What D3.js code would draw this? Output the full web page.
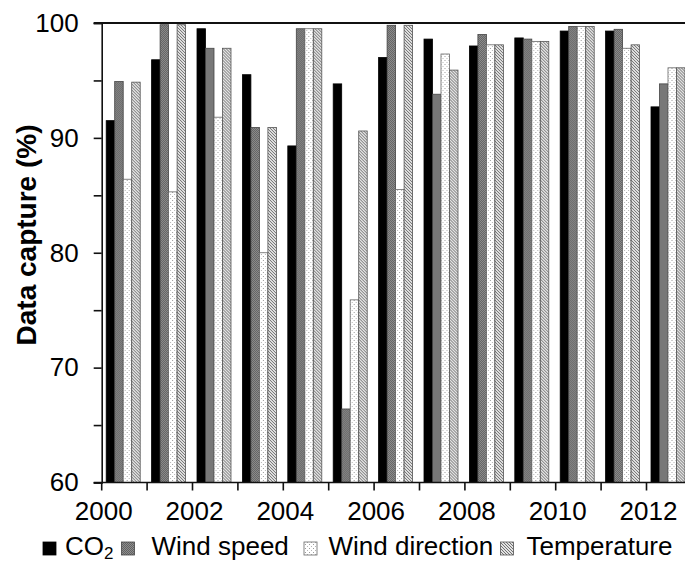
<!DOCTYPE html>
<html>
<head>
<meta charset="utf-8">
<script src="https://cdn.jsdelivr.net/npm/d3@7"></script>
<style>
  body { margin: 0; background: #fff; }
  svg { display: block; font-family: "Liberation Sans", Arial, sans-serif; }
</style>
</head>
<body>
<div id="chart"></div>
<script>
// data
const years = [2000, 2001, 2002, 2003, 2004, 2005, 2006, 2007, 2008, 2009, 2010, 2011, 2012];
const co2 = [91.5, 96.8, 99.5, 95.5, 89.3, 94.7, 97.0, 98.6, 98.0, 98.7, 99.3, 99.3, 92.7];
const windSpeed = [94.9, 99.85, 97.8, 90.9, 99.5, 66.4, 99.8, 93.8, 99.0, 98.6, 99.7, 99.45, 94.7];
const windDirection = [86.4, 85.3, 91.8, 80.0, 99.5, 75.9, 85.5, 97.3, 98.1, 98.4, 99.7, 97.8, 96.1];
const temperature = [94.85, 99.85, 97.8, 90.9, 99.5, 90.6, 99.8, 95.9, 98.1, 98.4, 99.7, 98.1, 96.1];
const seriesNames = ["CO2", "Wind speed", "Wind direction", "Temperature"];
const yTicks = [60, 70, 80, 90, 100];

/***** SETUP *****/
const width = 685, height = 563;
const margin = {top: 23, left: 101.7, bottom: 81};
const yearStep = 45.4;
const FONT = 26;

const svg = d3.select("#chart").append("svg")
    .attr("width", width)
    .attr("height", height);

const table = years.map((yr, i) => ({
    year: yr,
    values: [co2[i], windSpeed[i], windDirection[i], temperature[i]]
}));

/***** PATTERNS *****/
const defs = svg.append("defs");

const checker = defs.append("pattern").attr("id", "pChecker")
    .attr("patternUnits", "userSpaceOnUse").attr("width", 2).attr("height", 2);
checker.append("rect").attr("width", 2).attr("height", 2).attr("fill", "#8e8e8e");
checker.append("rect").attr("width", 1).attr("height", 1).attr("fill", "#626262");
checker.append("rect").attr("x", 1).attr("y", 1).attr("width", 1).attr("height", 1).attr("fill", "#626262");

const dots = defs.append("pattern").attr("id", "pDots")
    .attr("patternUnits", "userSpaceOnUse").attr("width", 4).attr("height", 4);
dots.append("rect").attr("width", 4).attr("height", 4).attr("fill", "#fff");
dots.append("rect").attr("x", 1).attr("y", 0).attr("width", 1).attr("height", 1).attr("fill", "#9a9a9a");
dots.append("rect").attr("x", 3).attr("y", 2).attr("width", 1).attr("height", 1).attr("fill", "#b5b5b5");

const hatch = defs.append("pattern").attr("id", "pHatch")
    .attr("patternUnits", "userSpaceOnUse").attr("width", 3).attr("height", 3);
hatch.append("rect").attr("width", 3).attr("height", 3).attr("fill", "#e2e2e2");
hatch.append("rect").attr("x", 0).attr("y", 0).attr("width", 1).attr("height", 1).attr("fill", "#707070");
hatch.append("rect").attr("x", 1).attr("y", 1).attr("width", 1).attr("height", 1).attr("fill", "#707070");
hatch.append("rect").attr("x", 2).attr("y", 2).attr("width", 1).attr("height", 1).attr("fill", "#707070");

const fills = ["#000", "url(#pChecker)", "url(#pDots)", "url(#pHatch)"];
const strokes = ["#000", "#444", "#666", "#555"];

/***** SCALES *****/
const xScale = d3.scaleBand()
    .domain(years)
    .range([margin.left, margin.left + years.length * yearStep])
    .padding(0);

const xSub = d3.scaleBand()
    .domain(d3.range(seriesNames.length))
    .range([4.5, 38.5]);

const yScale = d3.scaleLinear()
    .domain([60, 100])
    .range([height - margin.bottom + 0.5, margin.top]);

/***** BARS *****/
const groups = svg.append("g").selectAll(".yearGroup")
    .data(table)
    .join("g")
    .attr("class", "yearGroup")
    .attr("transform", d => `translate(${xScale(d.year)},0)`);

groups.selectAll("rect")
    .data(d => d.values.map((v, k) => ({k: k, v: v})))
    .join("rect")
    .attr("x", d => xSub(d.k))
    .attr("y", d => yScale(d.v))
    .attr("width", xSub.bandwidth())
    .attr("height", d => yScale(60) - yScale(d.v))
    .attr("fill", d => fills[d.k])
    .attr("stroke", d => strokes[d.k])
    .attr("stroke-width", 0.8);

/***** AXES *****/
const yAxis = svg.append("g")
    .attr("transform", `translate(${margin.left},0)`)
    .call(d3.axisLeft(yScale)
        .tickValues(d3.range(60, 101, 5))
        .tickSize(8)
        .tickPadding(15)
        .tickFormat(d => yTicks.includes(d) ? d : ""));

yAxis.select(".domain").attr("stroke", "#111").attr("stroke-width", 1.6);
yAxis.selectAll(".tick line").attr("stroke", "#111").attr("stroke-width", 1.6);
yAxis.selectAll(".tick text")
    .attr("font-size", FONT)
    .attr("font-family", "Liberation Sans, Arial, sans-serif")
    .attr("fill", "#000");

// x axis: ticks at year boundaries, labels every other year
const xg = svg.append("g")
    .attr("transform", `translate(0,${yScale(60)})`);
xg.append("line")
    .attr("x1", margin.left - 8).attr("x2", width)
    .attr("stroke", "#111").attr("stroke-width", 1.6);
xg.selectAll(".xtick")
    .data(years)
    .join("line")
    .attr("class", "xtick")
    .attr("x1", d => xScale(d)).attr("x2", d => xScale(d))
    .attr("y1", 0).attr("y2", 8)
    .attr("stroke", "#111").attr("stroke-width", 1.6);
xg.selectAll(".xlabel")
    .data(years.filter(d => d % 2 === 0))
    .join("text")
    .attr("class", "xlabel")
    .attr("x", d => xScale(d) + 2)
    .attr("y", 37)
    .attr("text-anchor", "middle")
    .attr("font-size", FONT)
    .attr("fill", "#000")
    .text(d => d);

// top frame line
svg.append("line")
    .attr("x1", margin.left - 8).attr("x2", width)
    .attr("y1", yScale(100)).attr("y2", yScale(100))
    .attr("stroke", "#111").attr("stroke-width", 1.8);

/***** AXIS TITLE *****/
svg.append("text")
    .attr("transform", "translate(36,235) rotate(-90)")
    .attr("text-anchor", "middle")
    .attr("font-size", 28)
    .attr("font-weight", "bold")
    .text("Data capture (%)");

/***** LEGEND *****/
// legend slot positions: [swatch x, text x]
const legendSlots = [[43, 65], [121.5, 151.5], [304, 328.5], [500.5, 526.5]];
const legend = svg.append("g").attr("class", "legend");
seriesNames.forEach((name, k) => {
    legend.append("rect")
        .attr("x", legendSlots[k][0]).attr("y", 542)
        .attr("width", 13).attr("height", 13)
        .attr("fill", fills[k])
        .attr("stroke", strokes[k])
        .attr("stroke-width", 0.8);
    const t = legend.append("text")
        .attr("x", legendSlots[k][1])
        .attr("y", 555)
        .attr("font-size", FONT);
    if (name === "CO2") {
        t.append("tspan").text("CO");
        t.append("tspan").attr("font-size", 17).attr("dy", 4).text("2");
    } else {
        t.text(name);
    }
});
</script>
</body>
</html>
